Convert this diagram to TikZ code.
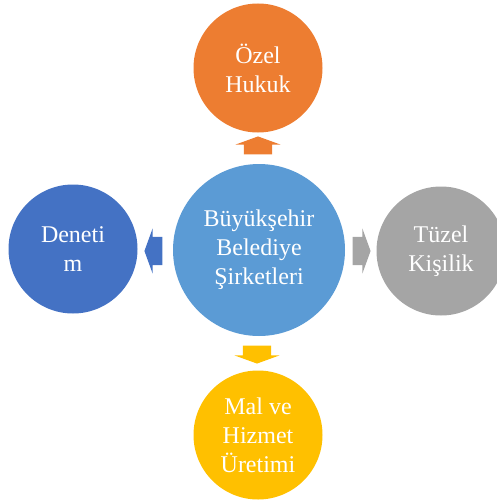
\documentclass[tikz,border=0pt]{standalone}
\usepackage{fontspec}
\setmainfont{Liberation Serif}
\usetikzlibrary{shapes.arrows}

\definecolor{hubblue}{HTML}{5B9BD5}
\definecolor{laworange}{HTML}{ED7D31}
\definecolor{auditblue}{HTML}{4472C4}
\definecolor{entitygray}{HTML}{A5A5A5}
\definecolor{prodyellow}{HTML}{FFC000}

\tikzset{
  topic/.style={circle, fill=#1, draw=none, text=white, minimum size=129pt,
    inner sep=0pt, align=center, font=\fontsize{24}{29}\selectfont},
  hub/.style={topic=hubblue, minimum size=172pt},
  blockarrow/.style={single arrow, fill=#1, draw=none, inner xsep=0pt,
    inner ysep=14pt, minimum width=0pt, minimum height=18pt,
    single arrow head extend=8.5pt, single arrow tip angle=140}
}

\begin{document}
\begin{tikzpicture}[x=1pt,y=-1pt]
        \useasboundingbox (0,0) rectangle (497,503);

        \node[hub] (sirket) at (259,250) {Büyükşehir\\Belediye\\Şirketleri};
        \node[topic=laworange] (hukuk) at (258,68) {Özel\\Hukuk};
        \node[topic=auditblue] (denetim) at (73,249) {Deneti\\m};
        \node[topic=entitygray] (tuzel) at (441,251) {Tüzel\\Kişilik};
        \node[topic=prodyellow] (uretim) at (258,435) {Mal ve\\Hizmet\\Üretimi};

        % arrows between hub and the outer circles
        \node[blockarrow=laworange, rotate=90] (okhukuk) at (258,148) {};
        \node[blockarrow=auditblue, rotate=180] (okdenetim) at (156,251) {};
        \node[blockarrow=entitygray] (oktuzel) at (359,251) {};
        \node[blockarrow=prodyellow, rotate=270] (okuretim) at (257,352) {};

    \end{tikzpicture}
\end{document}
